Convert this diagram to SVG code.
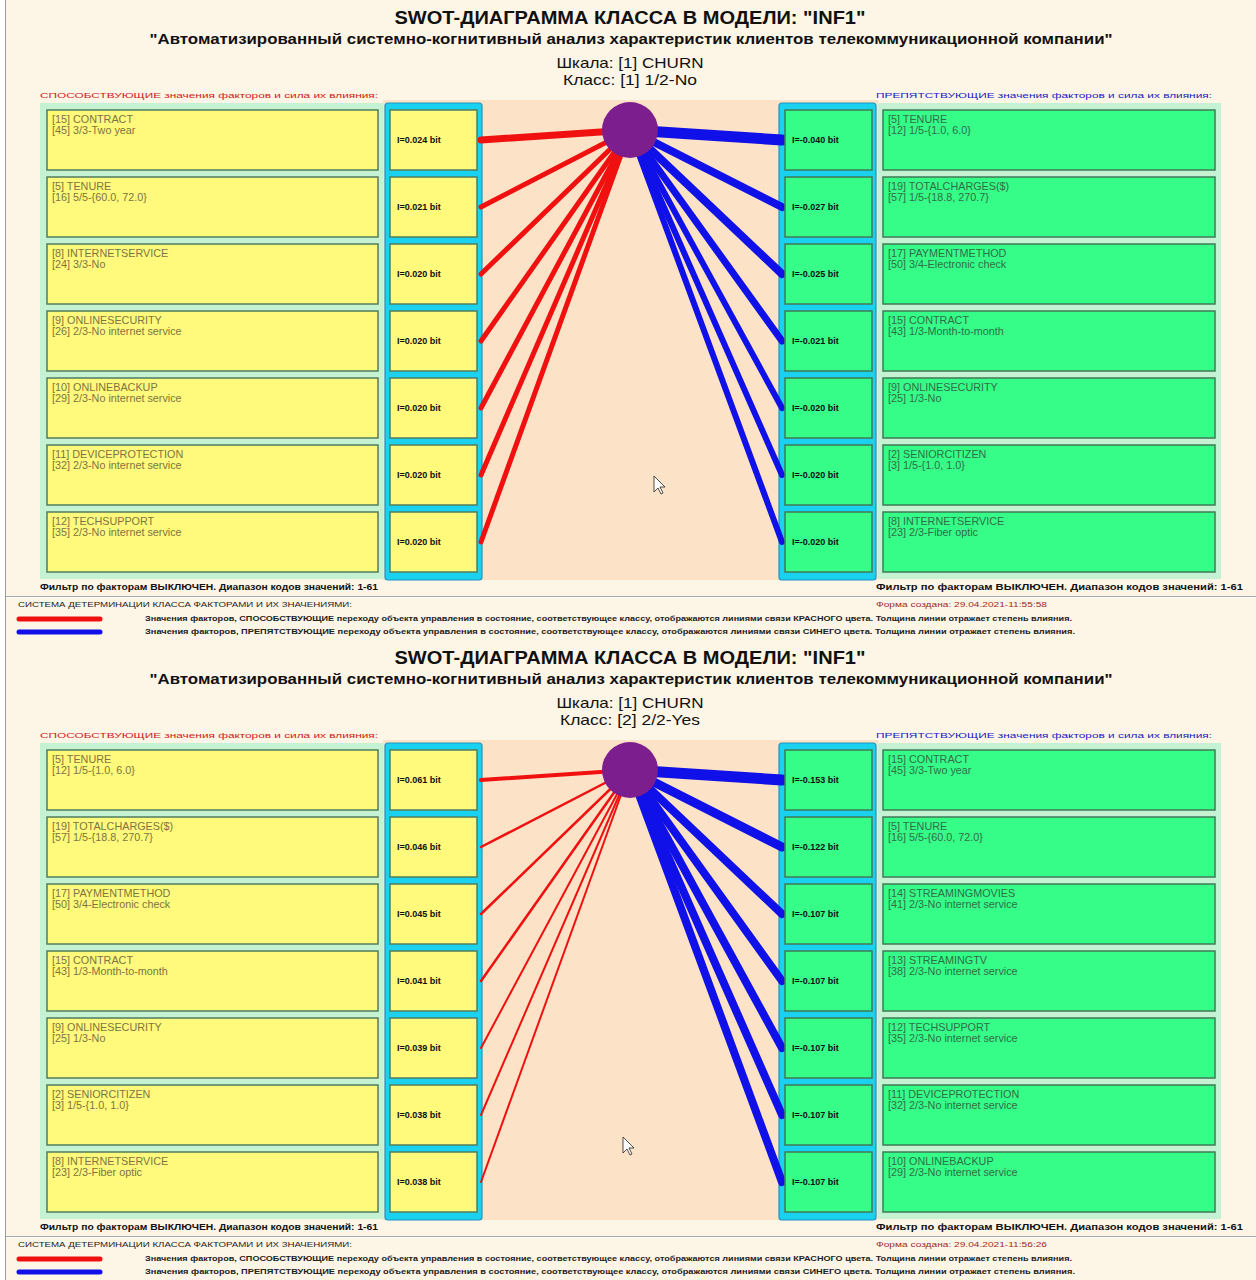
<svg xmlns="http://www.w3.org/2000/svg" width="1256" height="1280" viewBox="0 0 1256 1280">
<defs>
<style>
.bg{fill:#fdf5e6}
.peach{fill:#fce2c6}
.pnl{fill:#c6f2d4}
.col{fill:#1ad2f0;stroke:#1a96c4;stroke-width:1.2}
.yb{fill:#fffa7c;stroke:#4f7d5c;stroke-width:1.5}
.gb{fill:#36fd87;stroke:#3f7a56;stroke-width:1.5}
.ty{font-family:"Liberation Sans",Arial,sans-serif;font-size:10.8px;fill:#7d7440}
.tg{font-family:"Liberation Sans",Arial,sans-serif;font-size:10.8px;fill:#2e6e48}
.val{font-family:"Liberation Sans",Arial,sans-serif;font-size:9px;font-weight:bold;fill:#111}
.title{font-family:"Liberation Sans",Arial,sans-serif;font-size:18px;font-weight:bold;fill:#111;text-anchor:middle}
.sub{font-family:"Liberation Sans",Arial,sans-serif;font-size:14px;font-weight:bold;fill:#111;text-anchor:middle}
.scl{font-family:"Liberation Sans",Arial,sans-serif;font-size:15px;fill:#111;text-anchor:middle}
.hr{font-family:"Liberation Sans",Arial,sans-serif;font-size:8px;fill:#d01818}
.hb{font-family:"Liberation Sans",Arial,sans-serif;font-size:8px;fill:#2020c0}
.flt{font-family:"Liberation Sans",Arial,sans-serif;font-size:9px;font-weight:bold;fill:#111}
.sm{font-family:"Liberation Sans",Arial,sans-serif;font-size:7px;fill:#222}
.smb{font-family:"Liberation Sans",Arial,sans-serif;font-size:7px;font-weight:bold;fill:#222}
.dt{font-family:"Liberation Sans",Arial,sans-serif;font-size:7px;fill:#a02828}
.red{stroke:#f01010;stroke-linecap:round;fill:none}
.blue{stroke:#1010e8;stroke-linecap:round;fill:none}
.hub{fill:#7d1e8e}
.cur{fill:#fff;stroke:#222;stroke-width:0.8}
</style>
</defs>
<rect x="0" y="0" width="1256" height="1280" class="bg"/>
<rect x="0" y="0" width="5" height="1280" fill="#ffffff"/>
<line x1="5.5" y1="0" x2="5.5" y2="1280" stroke="#9a9a9a" stroke-width="1"/>

<!-- ============ TOP DIAGRAM ============ -->
<g id="diagram1">
<text class="title" x="630" y="24" textLength="471" lengthAdjust="spacingAndGlyphs">SWOT-ДИАГРАММА КЛАССА В МОДЕЛИ: "INF1"</text>
<text class="sub" x="631" y="44" textLength="963" lengthAdjust="spacingAndGlyphs">"Автоматизированный системно-когнитивный анализ характеристик клиентов телекоммуникационной компании"</text>
<text class="scl" x="630" y="68" textLength="147" lengthAdjust="spacingAndGlyphs">Шкала: [1] CHURN</text>
<text class="scl" x="630" y="85" textLength="134" lengthAdjust="spacingAndGlyphs">Класс: [1] 1/2-No</text>
<text class="hr" x="40" y="98" textLength="338" lengthAdjust="spacingAndGlyphs">СПОСОБСТВУЮЩИЕ значения факторов и сила их влияния:</text>
<text class="hb" x="876" y="98" textLength="336" lengthAdjust="spacingAndGlyphs">ПРЕПЯТСТВУЮЩИЕ значения факторов и сила их влияния:</text>

<rect class="peach" x="383" y="100" width="495" height="480"/>
<rect class="pnl" x="40" y="103" width="343" height="476"/>
<rect class="pnl" x="878" y="103" width="343" height="476"/>
<rect class="col" x="385" y="103" width="97" height="477" rx="3"/>
<rect class="col" x="779" y="103" width="97" height="477" rx="3"/>

<g id="d1-connectors">
<line class="red" x1="630" y1="130" x2="481" y2="140" stroke-width="7"/>
<line class="red" x1="630" y1="130" x2="481" y2="207" stroke-width="5"/>
<line class="red" x1="630" y1="130" x2="481" y2="274" stroke-width="5"/>
<line class="red" x1="630" y1="130" x2="481" y2="341" stroke-width="5"/>
<line class="red" x1="630" y1="130" x2="481" y2="408" stroke-width="5"/>
<line class="red" x1="630" y1="130" x2="481" y2="475" stroke-width="5"/>
<line class="red" x1="630" y1="130" x2="481" y2="542" stroke-width="5"/>
<line class="blue" x1="630" y1="130" x2="782" y2="140" stroke-width="11"/>
<line class="blue" x1="630" y1="130" x2="782" y2="207" stroke-width="8"/>
<line class="blue" x1="630" y1="130" x2="782" y2="274" stroke-width="8"/>
<line class="blue" x1="630" y1="130" x2="782" y2="341" stroke-width="7"/>
<line class="blue" x1="630" y1="130" x2="782" y2="408" stroke-width="6"/>
<line class="blue" x1="630" y1="130" x2="782" y2="475" stroke-width="6"/>
<line class="blue" x1="630" y1="130" x2="782" y2="542" stroke-width="6"/>
</g>
<g id="d1-class"><circle class="hub" cx="630" cy="130" r="28"/></g>

<g id="d1-p1"><rect class="yb" x="47" y="110" width="331" height="60"/><text class="ty" x="52" y="123">[15] CONTRACT</text><text class="ty" x="52" y="134">[45] 3/3-Two year</text></g>
<g id="d1-p2"><rect class="yb" x="47" y="177" width="331" height="60"/><text class="ty" x="52" y="190">[5] TENURE</text><text class="ty" x="52" y="201">[16] 5/5-{60.0, 72.0}</text></g>
<g id="d1-p3"><rect class="yb" x="47" y="244" width="331" height="60"/><text class="ty" x="52" y="257">[8] INTERNETSERVICE</text><text class="ty" x="52" y="268">[24] 3/3-No</text></g>
<g id="d1-p4"><rect class="yb" x="47" y="311" width="331" height="60"/><text class="ty" x="52" y="324">[9] ONLINESECURITY</text><text class="ty" x="52" y="335">[26] 2/3-No internet service</text></g>
<g id="d1-p5"><rect class="yb" x="47" y="378" width="331" height="60"/><text class="ty" x="52" y="391">[10] ONLINEBACKUP</text><text class="ty" x="52" y="402">[29] 2/3-No internet service</text></g>
<g id="d1-p6"><rect class="yb" x="47" y="445" width="331" height="60"/><text class="ty" x="52" y="458">[11] DEVICEPROTECTION</text><text class="ty" x="52" y="469">[32] 2/3-No internet service</text></g>
<g id="d1-p7"><rect class="yb" x="47" y="512" width="331" height="60"/><text class="ty" x="52" y="525">[12] TECHSUPPORT</text><text class="ty" x="52" y="536">[35] 2/3-No internet service</text></g>

<g id="d1-pv1"><rect class="yb" x="390" y="110" width="87" height="60"/><text class="val" x="397" y="143">I=0.024 bit</text></g>
<g id="d1-pv2"><rect class="yb" x="390" y="177" width="87" height="60"/><text class="val" x="397" y="210">I=0.021 bit</text></g>
<g id="d1-pv3"><rect class="yb" x="390" y="244" width="87" height="60"/><text class="val" x="397" y="277">I=0.020 bit</text></g>
<g id="d1-pv4"><rect class="yb" x="390" y="311" width="87" height="60"/><text class="val" x="397" y="344">I=0.020 bit</text></g>
<g id="d1-pv5"><rect class="yb" x="390" y="378" width="87" height="60"/><text class="val" x="397" y="411">I=0.020 bit</text></g>
<g id="d1-pv6"><rect class="yb" x="390" y="445" width="87" height="60"/><text class="val" x="397" y="478">I=0.020 bit</text></g>
<g id="d1-pv7"><rect class="yb" x="390" y="512" width="87" height="60"/><text class="val" x="397" y="545">I=0.020 bit</text></g>

<g id="d1-nv1"><rect class="gb" x="785" y="110" width="87" height="60"/><text class="val" x="792" y="143">I=-0.040 bit</text></g>
<g id="d1-nv2"><rect class="gb" x="785" y="177" width="87" height="60"/><text class="val" x="792" y="210">I=-0.027 bit</text></g>
<g id="d1-nv3"><rect class="gb" x="785" y="244" width="87" height="60"/><text class="val" x="792" y="277">I=-0.025 bit</text></g>
<g id="d1-nv4"><rect class="gb" x="785" y="311" width="87" height="60"/><text class="val" x="792" y="344">I=-0.021 bit</text></g>
<g id="d1-nv5"><rect class="gb" x="785" y="378" width="87" height="60"/><text class="val" x="792" y="411">I=-0.020 bit</text></g>
<g id="d1-nv6"><rect class="gb" x="785" y="445" width="87" height="60"/><text class="val" x="792" y="478">I=-0.020 bit</text></g>
<g id="d1-nv7"><rect class="gb" x="785" y="512" width="87" height="60"/><text class="val" x="792" y="545">I=-0.020 bit</text></g>

<g id="d1-n1"><rect class="gb" x="883" y="110" width="332" height="60"/><text class="tg" x="888" y="123">[5] TENURE</text><text class="tg" x="888" y="134">[12] 1/5-{1.0, 6.0}</text></g>
<g id="d1-n2"><rect class="gb" x="883" y="177" width="332" height="60"/><text class="tg" x="888" y="190">[19] TOTALCHARGES($)</text><text class="tg" x="888" y="201">[57] 1/5-{18.8, 270.7}</text></g>
<g id="d1-n3"><rect class="gb" x="883" y="244" width="332" height="60"/><text class="tg" x="888" y="257">[17] PAYMENTMETHOD</text><text class="tg" x="888" y="268">[50] 3/4-Electronic check</text></g>
<g id="d1-n4"><rect class="gb" x="883" y="311" width="332" height="60"/><text class="tg" x="888" y="324">[15] CONTRACT</text><text class="tg" x="888" y="335">[43] 1/3-Month-to-month</text></g>
<g id="d1-n5"><rect class="gb" x="883" y="378" width="332" height="60"/><text class="tg" x="888" y="391">[9] ONLINESECURITY</text><text class="tg" x="888" y="402">[25] 1/3-No</text></g>
<g id="d1-n6"><rect class="gb" x="883" y="445" width="332" height="60"/><text class="tg" x="888" y="458">[2] SENIORCITIZEN</text><text class="tg" x="888" y="469">[3] 1/5-{1.0, 1.0}</text></g>
<g id="d1-n7"><rect class="gb" x="883" y="512" width="332" height="60"/><text class="tg" x="888" y="525">[8] INTERNETSERVICE</text><text class="tg" x="888" y="536">[23] 2/3-Fiber optic</text></g>

<path class="cur" d="M654,476 L654,492 L658,488 L661,494 L663,493 L660,487 L665,487 Z"/>

<text class="flt" x="40" y="590" textLength="338" lengthAdjust="spacingAndGlyphs">Фильтр по факторам ВЫКЛЮЧЕН. Диапазон кодов значений: 1-61</text>
<text class="flt" x="876" y="590" textLength="367" lengthAdjust="spacingAndGlyphs">Фильтр по факторам ВЫКЛЮЧЕН. Диапазон кодов значений: 1-61</text>
<line x1="6" y1="596.5" x2="1256" y2="596.5" stroke="#a8a8a8" stroke-width="1"/>
<line x1="6" y1="597.5" x2="1256" y2="597.5" stroke="#ffffff" stroke-width="1"/>
<text class="sm" x="18" y="607" textLength="334" lengthAdjust="spacingAndGlyphs">СИСТЕМА ДЕТЕРМИНАЦИИ КЛАССА ФАКТОРАМИ И ИХ ЗНАЧЕНИЯМИ:</text>
<text class="dt" x="876" y="607" textLength="171" lengthAdjust="spacingAndGlyphs">Форма создана: 29.04.2021-11:55:58</text>
<line class="red" x1="19" y1="619" x2="100" y2="619" stroke-width="5"/>
<text class="smb" x="145" y="621" textLength="927" lengthAdjust="spacingAndGlyphs">Значения факторов, СПОСОБСТВУЮЩИЕ переходу объекта управления в состояние, соответствующее классу, отображаются линиями связи КРАСНОГО цвета. Толщина линии отражает степень влияния.</text>
<line class="blue" x1="19" y1="632" x2="100" y2="632" stroke-width="5"/>
<text class="smb" x="145" y="634" textLength="930" lengthAdjust="spacingAndGlyphs">Значения факторов, ПРЕПЯТСТВУЮЩИЕ переходу объекта управления в состояние, соответствующее классу, отображаются линиями связи СИНЕГО цвета. Толщина линии отражает степень влияния.</text>
</g>

<!-- ============ BOTTOM DIAGRAM ============ -->
<g id="diagram2" transform="translate(0,640)">
<text class="title" x="630" y="24" textLength="471" lengthAdjust="spacingAndGlyphs">SWOT-ДИАГРАММА КЛАССА В МОДЕЛИ: "INF1"</text>
<text class="sub" x="631" y="44" textLength="963" lengthAdjust="spacingAndGlyphs">"Автоматизированный системно-когнитивный анализ характеристик клиентов телекоммуникационной компании"</text>
<text class="scl" x="630" y="68" textLength="147" lengthAdjust="spacingAndGlyphs">Шкала: [1] CHURN</text>
<text class="scl" x="630" y="85" textLength="140" lengthAdjust="spacingAndGlyphs">Класс: [2] 2/2-Yes</text>
<text class="hr" x="40" y="98" textLength="338" lengthAdjust="spacingAndGlyphs">СПОСОБСТВУЮЩИЕ значения факторов и сила их влияния:</text>
<text class="hb" x="876" y="98" textLength="336" lengthAdjust="spacingAndGlyphs">ПРЕПЯТСТВУЮЩИЕ значения факторов и сила их влияния:</text>

<rect class="peach" x="383" y="100" width="495" height="480"/>
<rect class="pnl" x="40" y="103" width="343" height="476"/>
<rect class="pnl" x="878" y="103" width="343" height="476"/>
<rect class="col" x="385" y="103" width="97" height="477" rx="3"/>
<rect class="col" x="779" y="103" width="97" height="477" rx="3"/>

<g id="d2-connectors">
<line class="red" x1="630" y1="130" x2="481" y2="140" stroke-width="4"/>
<line class="red" x1="630" y1="130" x2="481" y2="207" stroke-width="2.5"/>
<line class="red" x1="630" y1="130" x2="481" y2="274" stroke-width="2.5"/>
<line class="red" x1="630" y1="130" x2="481" y2="341" stroke-width="2.5"/>
<line class="red" x1="630" y1="130" x2="481" y2="408" stroke-width="2"/>
<line class="red" x1="630" y1="130" x2="481" y2="475" stroke-width="2"/>
<line class="red" x1="630" y1="130" x2="481" y2="542" stroke-width="2"/>
<line class="blue" x1="630" y1="130" x2="782" y2="140" stroke-width="11"/>
<line class="blue" x1="630" y1="130" x2="782" y2="207" stroke-width="9"/>
<line class="blue" x1="630" y1="130" x2="782" y2="274" stroke-width="8"/>
<line class="blue" x1="630" y1="130" x2="782" y2="341" stroke-width="8"/>
<line class="blue" x1="630" y1="130" x2="782" y2="408" stroke-width="8"/>
<line class="blue" x1="630" y1="130" x2="782" y2="475" stroke-width="8"/>
<line class="blue" x1="630" y1="130" x2="782" y2="542" stroke-width="8"/>
</g>
<g id="d2-class"><circle class="hub" cx="630" cy="130" r="28"/></g>

<g id="d2-p1"><rect class="yb" x="47" y="110" width="331" height="60"/><text class="ty" x="52" y="123">[5] TENURE</text><text class="ty" x="52" y="134">[12] 1/5-{1.0, 6.0}</text></g>
<g id="d2-p2"><rect class="yb" x="47" y="177" width="331" height="60"/><text class="ty" x="52" y="190">[19] TOTALCHARGES($)</text><text class="ty" x="52" y="201">[57] 1/5-{18.8, 270.7}</text></g>
<g id="d2-p3"><rect class="yb" x="47" y="244" width="331" height="60"/><text class="ty" x="52" y="257">[17] PAYMENTMETHOD</text><text class="ty" x="52" y="268">[50] 3/4-Electronic check</text></g>
<g id="d2-p4"><rect class="yb" x="47" y="311" width="331" height="60"/><text class="ty" x="52" y="324">[15] CONTRACT</text><text class="ty" x="52" y="335">[43] 1/3-Month-to-month</text></g>
<g id="d2-p5"><rect class="yb" x="47" y="378" width="331" height="60"/><text class="ty" x="52" y="391">[9] ONLINESECURITY</text><text class="ty" x="52" y="402">[25] 1/3-No</text></g>
<g id="d2-p6"><rect class="yb" x="47" y="445" width="331" height="60"/><text class="ty" x="52" y="458">[2] SENIORCITIZEN</text><text class="ty" x="52" y="469">[3] 1/5-{1.0, 1.0}</text></g>
<g id="d2-p7"><rect class="yb" x="47" y="512" width="331" height="60"/><text class="ty" x="52" y="525">[8] INTERNETSERVICE</text><text class="ty" x="52" y="536">[23] 2/3-Fiber optic</text></g>

<g id="d2-pv1"><rect class="yb" x="390" y="110" width="87" height="60"/><text class="val" x="397" y="143">I=0.061 bit</text></g>
<g id="d2-pv2"><rect class="yb" x="390" y="177" width="87" height="60"/><text class="val" x="397" y="210">I=0.046 bit</text></g>
<g id="d2-pv3"><rect class="yb" x="390" y="244" width="87" height="60"/><text class="val" x="397" y="277">I=0.045 bit</text></g>
<g id="d2-pv4"><rect class="yb" x="390" y="311" width="87" height="60"/><text class="val" x="397" y="344">I=0.041 bit</text></g>
<g id="d2-pv5"><rect class="yb" x="390" y="378" width="87" height="60"/><text class="val" x="397" y="411">I=0.039 bit</text></g>
<g id="d2-pv6"><rect class="yb" x="390" y="445" width="87" height="60"/><text class="val" x="397" y="478">I=0.038 bit</text></g>
<g id="d2-pv7"><rect class="yb" x="390" y="512" width="87" height="60"/><text class="val" x="397" y="545">I=0.038 bit</text></g>

<g id="d2-nv1"><rect class="gb" x="785" y="110" width="87" height="60"/><text class="val" x="792" y="143">I=-0.153 bit</text></g>
<g id="d2-nv2"><rect class="gb" x="785" y="177" width="87" height="60"/><text class="val" x="792" y="210">I=-0.122 bit</text></g>
<g id="d2-nv3"><rect class="gb" x="785" y="244" width="87" height="60"/><text class="val" x="792" y="277">I=-0.107 bit</text></g>
<g id="d2-nv4"><rect class="gb" x="785" y="311" width="87" height="60"/><text class="val" x="792" y="344">I=-0.107 bit</text></g>
<g id="d2-nv5"><rect class="gb" x="785" y="378" width="87" height="60"/><text class="val" x="792" y="411">I=-0.107 bit</text></g>
<g id="d2-nv6"><rect class="gb" x="785" y="445" width="87" height="60"/><text class="val" x="792" y="478">I=-0.107 bit</text></g>
<g id="d2-nv7"><rect class="gb" x="785" y="512" width="87" height="60"/><text class="val" x="792" y="545">I=-0.107 bit</text></g>

<g id="d2-n1"><rect class="gb" x="883" y="110" width="332" height="60"/><text class="tg" x="888" y="123">[15] CONTRACT</text><text class="tg" x="888" y="134">[45] 3/3-Two year</text></g>
<g id="d2-n2"><rect class="gb" x="883" y="177" width="332" height="60"/><text class="tg" x="888" y="190">[5] TENURE</text><text class="tg" x="888" y="201">[16] 5/5-{60.0, 72.0}</text></g>
<g id="d2-n3"><rect class="gb" x="883" y="244" width="332" height="60"/><text class="tg" x="888" y="257">[14] STREAMINGMOVIES</text><text class="tg" x="888" y="268">[41] 2/3-No internet service</text></g>
<g id="d2-n4"><rect class="gb" x="883" y="311" width="332" height="60"/><text class="tg" x="888" y="324">[13] STREAMINGTV</text><text class="tg" x="888" y="335">[38] 2/3-No internet service</text></g>
<g id="d2-n5"><rect class="gb" x="883" y="378" width="332" height="60"/><text class="tg" x="888" y="391">[12] TECHSUPPORT</text><text class="tg" x="888" y="402">[35] 2/3-No internet service</text></g>
<g id="d2-n6"><rect class="gb" x="883" y="445" width="332" height="60"/><text class="tg" x="888" y="458">[11] DEVICEPROTECTION</text><text class="tg" x="888" y="469">[32] 2/3-No internet service</text></g>
<g id="d2-n7"><rect class="gb" x="883" y="512" width="332" height="60"/><text class="tg" x="888" y="525">[10] ONLINEBACKUP</text><text class="tg" x="888" y="536">[29] 2/3-No internet service</text></g>

<path class="cur" d="M623,497 L623,513 L627,509 L630,515 L632,514 L629,508 L634,508 Z"/>

<text class="flt" x="40" y="590" textLength="338" lengthAdjust="spacingAndGlyphs">Фильтр по факторам ВЫКЛЮЧЕН. Диапазон кодов значений: 1-61</text>
<text class="flt" x="876" y="590" textLength="367" lengthAdjust="spacingAndGlyphs">Фильтр по факторам ВЫКЛЮЧЕН. Диапазон кодов значений: 1-61</text>
<line x1="6" y1="596.5" x2="1256" y2="596.5" stroke="#a8a8a8" stroke-width="1"/>
<line x1="6" y1="597.5" x2="1256" y2="597.5" stroke="#ffffff" stroke-width="1"/>
<text class="sm" x="18" y="607" textLength="334" lengthAdjust="spacingAndGlyphs">СИСТЕМА ДЕТЕРМИНАЦИИ КЛАССА ФАКТОРАМИ И ИХ ЗНАЧЕНИЯМИ:</text>
<text class="dt" x="876" y="607" textLength="171" lengthAdjust="spacingAndGlyphs">Форма создана: 29.04.2021-11:56:26</text>
<line class="red" x1="19" y1="619" x2="100" y2="619" stroke-width="5"/>
<text class="smb" x="145" y="621" textLength="927" lengthAdjust="spacingAndGlyphs">Значения факторов, СПОСОБСТВУЮЩИЕ переходу объекта управления в состояние, соответствующее классу, отображаются линиями связи КРАСНОГО цвета. Толщина линии отражает степень влияния.</text>
<line class="blue" x1="19" y1="632" x2="100" y2="632" stroke-width="5"/>
<text class="smb" x="145" y="634" textLength="930" lengthAdjust="spacingAndGlyphs">Значения факторов, ПРЕПЯТСТВУЮЩИЕ переходу объекта управления в состояние, соответствующее классу, отображаются линиями связи СИНЕГО цвета. Толщина линии отражает степень влияния.</text>
</g>
</svg>
